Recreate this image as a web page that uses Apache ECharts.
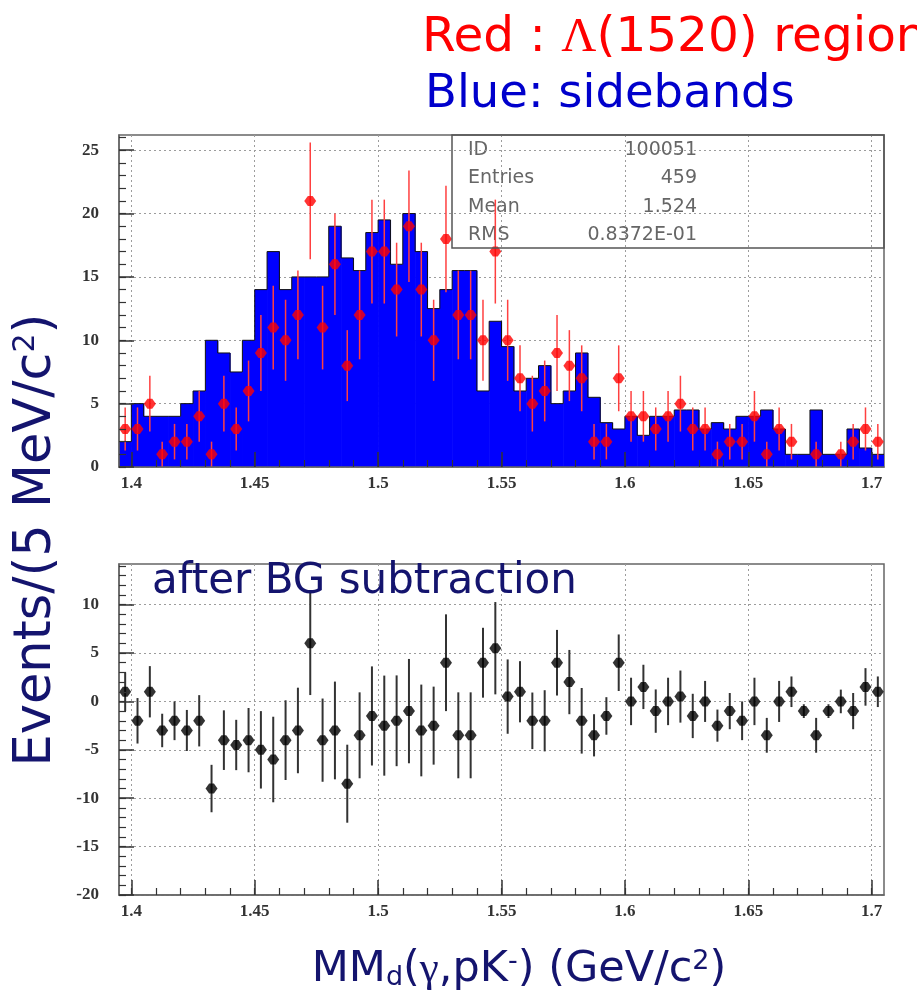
<!DOCTYPE html>
<html><head><meta charset="utf-8">
<script src="https://cdn.jsdelivr.net/npm/echarts@6/dist/echarts.min.js"></script>
<style>html,body{margin:0;padding:0;background:#fff}#chart{width:917px;height:998px}</style>
</head><body><div id="chart"></div>
<script>
// ---- data (GeV/c^2 bin centres, 5 MeV bins) ----
const massCenters = [
 1.3975,1.4025,1.4075,1.4125,1.4175,1.4225,1.4275,1.4325,1.4375,1.4425,
 1.4475,1.4525,1.4575,1.4625,1.4675,1.4725,1.4775,1.4825,1.4875,1.4925,
 1.4975,1.5025,1.5075,1.5125,1.5175,1.5225,1.5275,1.5325,1.5375,1.5425,
 1.5475,1.5525,1.5575,1.5625,1.5675,1.5725,1.5775,1.5825,1.5875,1.5925,
 1.5975,1.6025,1.6075,1.6125,1.6175,1.6225,1.6275,1.6325,1.6375,1.6425,
 1.6475,1.6525,1.6575,1.6625,1.6675,1.6725,1.6775,1.6825,1.6875,1.6925,
 1.6975,1.7025];
const binWidth = 0.005;
// Red: Lambda(1520) region
const regionCounts = [3,3,5,1,2,2,4,1,5,3,6,9,11,10,12,21,11,16,8,12,17,17,14,19,14,10,18,12,12,10,17,10,7,5,6,9,8,7,2,2,7,4,4,3,4,5,3,3,1,2,2,4,1,3,2,0,1,0,1,2,3,2];
const regionErrors = [1.7,1.7,2.2,1,1.4,1.4,2,1,2.2,1.7,2.4,3,3.3,3.2,3.5,4.6,3.3,4,2.8,3.5,4.1,4.1,3.7,4.4,3.7,3.2,4.2,3.5,3.5,3.2,4.1,3.2,2.6,2.2,2.4,3,2.8,2.6,1.4,1.4,2.6,2,2,1.7,2,2.2,1.7,1.7,1,1.4,1.4,2,1,1.7,1.4,0,1,0,1,1.4,1.7,1.4];
// Blue: sidebands
const sidebandCounts = [2,5,4,4,4,5,6,10,9,7.5,10,14,17,14,15,15,15,19,16.5,15.5,18.5,19.5,16,20,17,12.5,14,15.5,15.5,6,11.5,9.5,6,7,8,5,6,9,5.5,3.5,3,4,2.5,4,4,4.5,4.5,3,3.5,3,4,4,4.5,3,1,1,4.5,1,1,3,1.5,1];
// after BG subtraction
const subtracted = [1,-2,1,-3,-2,-3,-2,-9,-4,-4.5,-4,-5,-6,-4,-3,6,-4,-3,-8.5,-3.5,-1.5,-2.5,-2,-1,-3,-2.5,4,-3.5,-3.5,4,5.5,0.5,1,-2,-2,4,2,-2,-3.5,-1.5,4,0,1.5,-1,0,0.5,-1.5,0,-2.5,-1,-2,0,-3.5,0,1,-1,-3.5,-1,0,-1,1.5,1];
const subtractedErrors = [2,2.35,2.65,1.73,2,2.12,2.65,2.45,3.08,2.6,3.32,4,4.42,4.12,4.42,5.34,4.3,5.05,4.03,4.44,5.12,5.17,4.69,5.39,4.74,4.03,5,4.44,4.44,3.61,4.77,3.84,3.16,2.92,3.16,3.39,3.32,3.39,2.18,1.94,2.92,2.45,2.29,2.24,2.45,2.69,2.29,2.12,1.66,1.87,2,2.45,1.8,2.12,1.58,0.71,1.8,0.71,1.22,1.87,1.94,1.58];
// ticks
const xTickValues = [1.4,1.45,1.5,1.55,1.6,1.65,1.7];
const xTickLabels = ['1.4','1.45','1.5','1.55','1.6','1.65','1.7'];
const xMinorValues = [1.40,1.41,1.42,1.43,1.44,1.45,1.46,1.47,1.48,1.49,1.50,1.51,1.52,1.53,1.54,1.55,1.56,1.57,1.58,1.59,1.60,1.61,1.62,1.63,1.64,1.65,1.66,1.67,1.68,1.69,1.70];
const topYTicks = [0,5,10,15,20,25];
const topYLabels = ['0','5','10','15','20','25'];
const topYMinor = [0,1,2,3,4,5,6,7,8,9,10,11,12,13,14,15,16,17,18,19,20,21,22,23,24,25,26];
const botYTicks = [-20,-15,-10,-5,0,5,10];
const botYLabels = ['-20','-15','-10','-5','0','5','10'];
const botYMinor = [-20,-19,-18,-17,-16,-15,-14,-13,-12,-11,-10,-9,-8,-7,-6,-5,-4,-3,-2,-1,0,1,2,3,4,5,6,7,8,9,10,11,12,13,14];
const statLabels = ['ID','Entries','Mean','RMS'];
const statValues = ['100051','459','1.524','0.8372E-01'];

const X_MIN = 1.395, X_MAX = 1.705;
const TOP_Y = [0, 26.2], BOT_Y = [-20, 14.2];

function labelFor(vals, labels) {
  return function (v) {
    for (let i = 0; i < vals.length; i++) if (Math.abs(vals[i] - v) < 1e-9) return labels[i];
    return '';
  };
}
const tickFont = {fontSize: 17, fontFamily: 'Liberation Serif', fontWeight: 'bold', color: '#333'};
const gridLine = {show: true, lineStyle: {color: '#9c9c9c', width: 1, type: [2, 3]}};

function xAxes(g) {
  const base = {type: 'value', gridIndex: g, min: X_MIN, max: X_MAX, position: 'bottom'};
  return [
    Object.assign({}, base, {
      axisLine: {show: false, onZero: false},
      axisTick: {show: false, customValues: xTickValues},
      axisLabel: Object.assign({show: true, customValues: xTickValues, margin: 8,
        formatter: labelFor(xTickValues, xTickLabels)}, tickFont),
      splitLine: gridLine
    }),
    Object.assign({}, base, {z: 10,
      axisLine: {show: true, onZero: false, lineStyle: {color: '#666', width: 1.5}},
      axisTick: {show: true, inside: true, length: 15, customValues: xTickValues, lineStyle: {color: '#333', width: 1.5}},
      axisLabel: {show: false}, splitLine: {show: false}
    }),
    Object.assign({}, base, {z: 10,
      axisLine: {show: false, onZero: false},
      axisTick: {show: true, inside: true, length: 7, customValues: xMinorValues, lineStyle: {color: '#333', width: 1.2}},
      axisLabel: {show: false}, splitLine: {show: false}
    })
  ];
}
function yAxes(g, ext, ticks, labels, minor) {
  const base = {type: 'value', gridIndex: g, min: ext[0], max: ext[1], position: 'left'};
  return [
    Object.assign({}, base, {
      axisLine: {show: false, onZero: false},
      axisTick: {show: false, customValues: ticks},
      axisLabel: Object.assign({show: true, customValues: ticks, margin: 20,
        formatter: labelFor(ticks, labels)}, tickFont),
      splitLine: gridLine
    }),
    Object.assign({}, base, {z: 10,
      axisLine: {show: true, onZero: false, lineStyle: {color: '#666', width: 1.5}},
      axisTick: {show: true, inside: true, length: 15, customValues: ticks, lineStyle: {color: '#333', width: 1.5}},
      axisLabel: {show: false}, splitLine: {show: false}
    }),
    Object.assign({}, base, {z: 10,
      axisLine: {show: false, onZero: false},
      axisTick: {show: true, inside: true, length: 7, customValues: minor, lineStyle: {color: '#333', width: 1.2}},
      axisLabel: {show: false}, splitLine: {show: false}
    })
  ];
}

const markerPath = 'path://M0,5 L3,0.6 L7,0.6 L10,5 L7,9.4 L3,9.4 Z';

function histRender(params, api) {
  const i = params.dataIndex;
  const c = api.value(0), v = api.value(1);
  const prev = i > 0 ? sidebandCounts[i - 1] : 0;
  const pL = api.coord([c - binWidth / 2, 0]);
  const pR = api.coord([c + binWidth / 2, v]);
  const pP = api.coord([c - binWidth / 2, prev]);
  const children = [
    {type: 'rect', shape: {x: pL[0], y: pR[1], width: pR[0] - pL[0] + 0.6, height: pL[1] - pR[1]},
     style: {fill: '#0000ff'}},
    {type: 'polyline', shape: {points: [[pL[0], pP[1]], [pL[0], pR[1]], [pR[0], pR[1]]]},
     style: {stroke: '#111', lineWidth: 1, fill: null}}
  ];
  return {type: 'group', children: children};
}
function errRender(color, width) {
  return function (params, api) {
    const c = api.value(0), v = api.value(1), e = api.value(2);
    const a = api.coord([c, v - e]), b = api.coord([c, v + e]);
    return {type: 'line', shape: {x1: a[0], y1: a[1], x2: b[0], y2: b[1]},
      style: {stroke: color, lineWidth: width}};
  };
}

const redPts = [], redErr = [], blackPts = [], blackErr = [];
massCenters.forEach(function (c, i) {
  if (regionCounts[i] > 0) {
    redPts.push([c, regionCounts[i]]);
    redErr.push([c, regionCounts[i], regionErrors[i]]);
  }
  blackPts.push([c, subtracted[i]]);
  blackErr.push([c, subtracted[i], subtractedErrors[i]]);
});

const navy = '#14146e';
const option = {
  animation: false,
  backgroundColor: '#fff',
  grid: [
    {left: 119, top: 135, width: 765, height: 332, show: true, borderColor: '#666', borderWidth: 1.5, backgroundColor: 'transparent'},
    {left: 119, top: 564, width: 765, height: 331, show: true, borderColor: '#666', borderWidth: 1.5, backgroundColor: 'transparent'}
  ],
  xAxis: xAxes(0).concat(xAxes(1)),
  yAxis: yAxes(0, TOP_Y, topYTicks, topYLabels, topYMinor).concat(yAxes(1, BOT_Y, botYTicks, botYLabels, botYMinor)),
  series: [
    {type: 'custom', xAxisIndex: 0, yAxisIndex: 0, data: massCenters.map(function (c, i) { return [c, sidebandCounts[i]]; }),
     renderItem: histRender, clip: true, silent: true, z: 2},
    {type: 'custom', xAxisIndex: 0, yAxisIndex: 0, data: redErr, renderItem: errRender('#ff4040', 1.5), clip: true, silent: true, z: 3},
    {type: 'scatter', xAxisIndex: 0, yAxisIndex: 0, data: redPts, symbol: markerPath, symbolSize: [12, 10],
     itemStyle: {color: '#ff0000'}, silent: true, z: 4},
    {type: 'custom', xAxisIndex: 3, yAxisIndex: 3, data: blackErr, renderItem: errRender('#333', 2), clip: true, silent: true, z: 3},
    {type: 'scatter', xAxisIndex: 3, yAxisIndex: 3, data: blackPts, symbol: markerPath, symbolSize: [12, 10],
     itemStyle: {color: '#000'}, silent: true, z: 4}
  ],
  graphic: {elements: [
    {type: 'rect', z: 20, shape: {x: 452, y: 135, width: 432, height: 113},
     style: {fill: null, stroke: '#555', lineWidth: 1.5}},
    {type: 'group', z: 21, children: statLabels.map(function (t, i) {
      return {type: 'text', x: 468, y: 150 + i * 28.4, style: {text: t, fontSize: 19, fontFamily: 'DejaVu Sans',
        fill: '#666', verticalAlign: 'middle', textVerticalAlign: 'middle'}};
    }).concat(statValues.map(function (t, i) {
      return {type: 'text', x: 697, y: 150 + i * 28.4, style: {text: t, fontSize: 19, fontFamily: 'DejaVu Sans',
        fill: '#666', align: 'right', textAlign: 'right', verticalAlign: 'middle', textVerticalAlign: 'middle'}};
    }))},
    {type: 'text', z: 30, x: 422, y: 38, style: {
      text: '{a|Red : }{b|Λ}{a|(1520) region}', verticalAlign: 'middle', textVerticalAlign: 'middle',
      rich: {a: {fontSize: 48.5, fontFamily: 'DejaVu Sans', fill: '#ff0000'},
             b: {fontSize: 48.5, fontFamily: 'Liberation Serif', fill: '#ff0000'}}}},
    {type: 'text', z: 30, x: 425, y: 95, style: {
      text: 'Blue: sidebands', fontSize: 46.5, fontFamily: 'DejaVu Sans', fill: '#0000cc',
      verticalAlign: 'middle', textVerticalAlign: 'middle'}},
    {type: 'text', z: 30, x: 152, y: 582, style: {
      text: 'after BG subtraction', fontSize: 42, fontFamily: 'DejaVu Sans', fill: navy,
      verticalAlign: 'middle', textVerticalAlign: 'middle'}},
    {type: 'text', z: 30, x: 37, y: 540, rotation: Math.PI / 2, style: {
      text: '{a|Events/(5 MeV/c}{s|2}{a|)}', align: 'center', textAlign: 'center',
      verticalAlign: 'middle', textVerticalAlign: 'middle',
      rich: {a: {fontSize: 51, fontFamily: 'DejaVu Sans', fill: navy},
             s: {fontSize: 30, fontFamily: 'DejaVu Sans', fill: navy, verticalAlign: 'top'}}}},
    {type: 'text', z: 30, x: 519, y: 970, style: {
      text: '{a|MM}{d|d}{a|(}{g|γ}{a|,pK}{s|-}{a|) (GeV/c}{s|2}{a|)}', align: 'center', textAlign: 'center',
      verticalAlign: 'middle', textVerticalAlign: 'middle',
      rich: {a: {fontSize: 43, fontFamily: 'DejaVu Sans', fill: navy},
             g: {fontSize: 43, fontFamily: 'Liberation Serif', fill: navy},
             d: {fontSize: 27, fontFamily: 'DejaVu Sans', fill: navy, verticalAlign: 'bottom'},
             s: {fontSize: 27, fontFamily: 'DejaVu Sans', fill: navy, verticalAlign: 'top'}}}}
  ]}
};
const chart = echarts.init(document.getElementById('chart'), null, {renderer: 'canvas'});
chart.setOption(option);
</script>
</body></html>
